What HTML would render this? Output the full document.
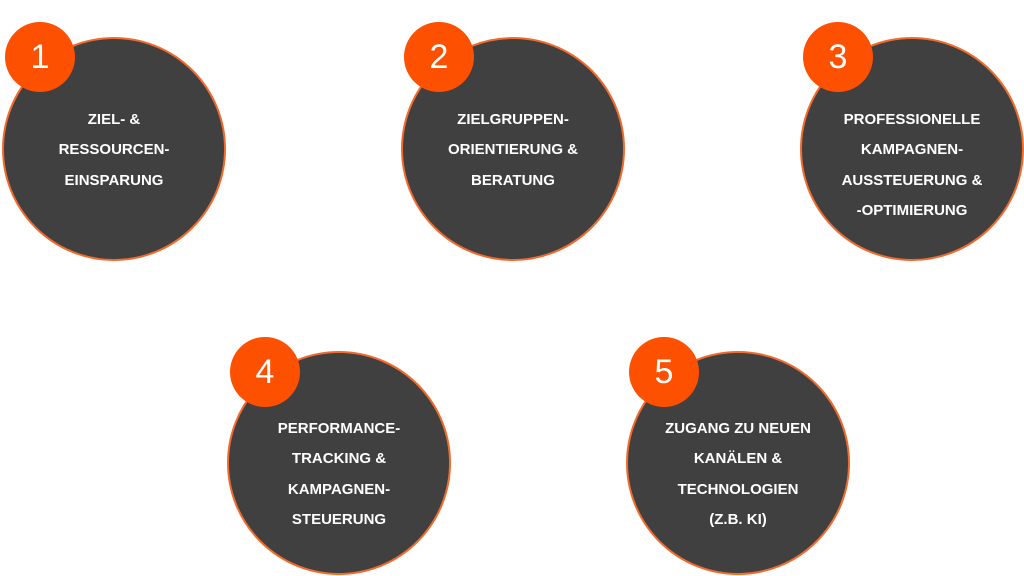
<!DOCTYPE html>
<html><head><meta charset="utf-8"><style>
body{margin:0;width:1024px;height:576px;background:#fff;position:relative;overflow:hidden;font-family:"Liberation Sans",sans-serif}
.c{position:absolute;width:220px;height:220px;border-radius:50%;background:#404040;border:2px solid #f26b2e;text-align:center;color:#fff;font-weight:bold;font-size:15px;line-height:30.3px;box-sizing:content-box}
.c span{position:absolute;left:0;right:0}
.b{position:absolute;width:70px;height:70px;border-radius:50%;background:#fd5000;color:#fff;font-size:34px;display:flex;align-items:center;justify-content:center;font-weight:300}
</style></head><body>
<div class="c" style="left:2px;top:37px"><span style="top:66px">ZIEL- &amp;<br>RESSOURCEN-<br>EINSPARUNG</span></div>
<div class="b" style="left:5px;top:22px">1</div>
<div class="c" style="left:401px;top:37px"><span style="top:66px">ZIELGRUPPEN-<br>ORIENTIERUNG &amp;<br>BERATUNG</span></div>
<div class="b" style="left:404px;top:22px">2</div>
<div class="c" style="left:800px;top:37px"><span style="top:66px">PROFESSIONELLE<br>KAMPAGNEN-<br>AUSSTEUERUNG &amp;<br>-OPTIMIERUNG</span></div>
<div class="b" style="left:803px;top:22px">3</div>
<div class="c" style="left:227px;top:351px"><span style="top:61px">PERFORMANCE-<br>TRACKING &amp;<br>KAMPAGNEN-<br>STEUERUNG</span></div>
<div class="b" style="left:230px;top:337px">4</div>
<div class="c" style="left:626px;top:351px"><span style="top:61px">ZUGANG ZU NEUEN<br>KANÄLEN &amp;<br>TECHNOLOGIEN<br>(Z.B. KI)</span></div>
<div class="b" style="left:629px;top:337px">5</div>
</body></html>
